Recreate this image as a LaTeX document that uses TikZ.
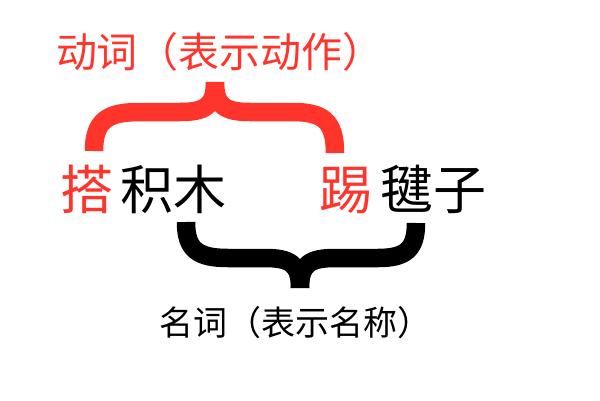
\documentclass[tikz,border=0pt]{standalone}
\usepackage{fontspec}
\setmainfont{Noto Sans CJK SC}
\definecolor{vred}{RGB}{255,52,42}
\begin{document}
\begin{tikzpicture}[x=1pt,y=-1pt,
  lbl/.style={inner sep=0pt,outer sep=0pt,anchor=base west},
  bracestroke/.style={line width=18.5pt,line cap=butt,line join=round}]
\useasboundingbox[fill=white] (0,0) rectangle (600,400);
% texts
\node[lbl,text=vred,font=\fontsize{41}{41}\selectfont] (verbT) at (56,67) {动词（表示动作）};
\node[lbl,text=vred,font=\fontsize{53}{53}\selectfont] (da) at (60,209) {搭};
\node[lbl,text=black,font=\fontsize{53}{53}\selectfont] (jimu) at (120,209) {积木};
\node[lbl,text=vred,font=\fontsize{53}{53}\selectfont] (ti) at (319,209) {踢};
\node[lbl,text=black,font=\fontsize{53}{53}\selectfont] (jianzi) at (380,209) {毽子};
\node[lbl,text=black,font=\fontsize{34}{34}\selectfont] (nounT) at (159,335) {名词（表示名称）};
% red brace
\coordinate (rL) at (94,151);
\coordinate (rT) at (215,82);
\coordinate (rR) at (335,153);
\draw[bracestroke,draw=vred] (rL) .. controls (94,120) and (108,112) .. (140,112) -- (180,112) .. controls (205,112) and (215,106) .. (rT);
\draw[bracestroke,draw=vred] (rT) .. controls (215,106) and (225,112) .. (250,112) -- (292,112) .. controls (322,112) and (335,120) .. (rR);
% black brace
\coordinate (bL) at (186,222);
\coordinate (bT) at (300,288);
\coordinate (bR) at (416,223);
\draw[bracestroke,draw=black] (bL) .. controls (186,250) and (198,258) .. (228,258) -- (265,258) .. controls (290,258) and (300,264) .. (bT);
\draw[bracestroke,draw=black] (bT) .. controls (300,264) and (310,258) .. (335,258) -- (378,258) .. controls (405,258) and (416,250) .. (bR);
\end{tikzpicture}
\end{document}
